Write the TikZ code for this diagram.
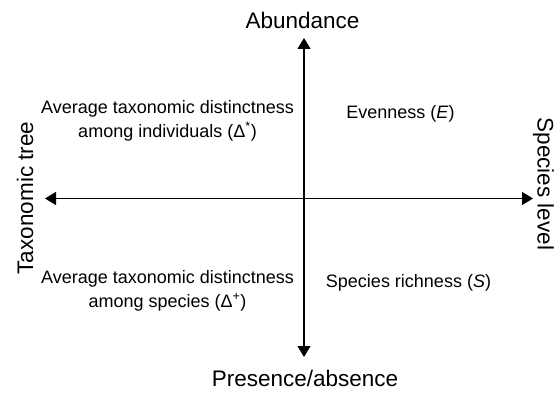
\documentclass[tikz,border=0pt]{standalone}
\usepackage{fontspec}
\setmainfont{Liberation Sans}
\usetikzlibrary{arrows.meta}
\begin{document}
\begin{tikzpicture}[x=1pt,y=-1pt,
  axis/.style={line width=1.2pt,-{Triangle[length=11pt,width=13pt]}},
  axislabel/.style={inner sep=0pt,anchor=base,font=\fontsize{22.5}{27}\selectfont},
  quadlabel/.style={inner sep=0pt,anchor=base,font=\fontsize{18}{22}\selectfont}]
  \useasboundingbox (0,0) rectangle (559,393);

  % axis end points
  \coordinate (top) at (304,38);
  \coordinate (bottom) at (304,357);
  \coordinate (left) at (45,198.5);
  \coordinate (right) at (533,198.5);
  \coordinate (origin) at (304,198.5);

  % axes, each drawn outward from the origin
  \draw[axis] (origin) -- (top);
  \draw[axis] (origin) -- (bottom);
  \draw[axis] (origin) -- (left);
  \draw[axis] (origin) -- (right);

  % axis labels
  \node[axislabel] (abund) at (302.5,28.3) {Abundance};
  \node[axislabel] (presabs) at (305,386) {Presence/absence};
  \node[axislabel,rotate=90] (taxtree) at (33,198) {Taxonomic tree};
  \node[axislabel,rotate=-90] (splevel) at (537.5,184) {Species level};

  % quadrant labels
  \node[quadlabel] (indiv1) at (167.5,113.3) {Average taxonomic distinctness};
  \node[quadlabel] (indiv2) at (167.5,137) {among individuals (Δ\textsuperscript{*})};
  \node[quadlabel] (spec1) at (167.5,283) {Average taxonomic distinctness};
  \node[quadlabel] (spec2) at (167.5,307) {among species (Δ\textsuperscript{+})};
  \node[quadlabel] (even) at (400.5,119) {Evenness (\textit{E})};
  \node[quadlabel] (rich) at (408.5,287) {Species richness (\textit{S})};
\end{tikzpicture}
\end{document}
